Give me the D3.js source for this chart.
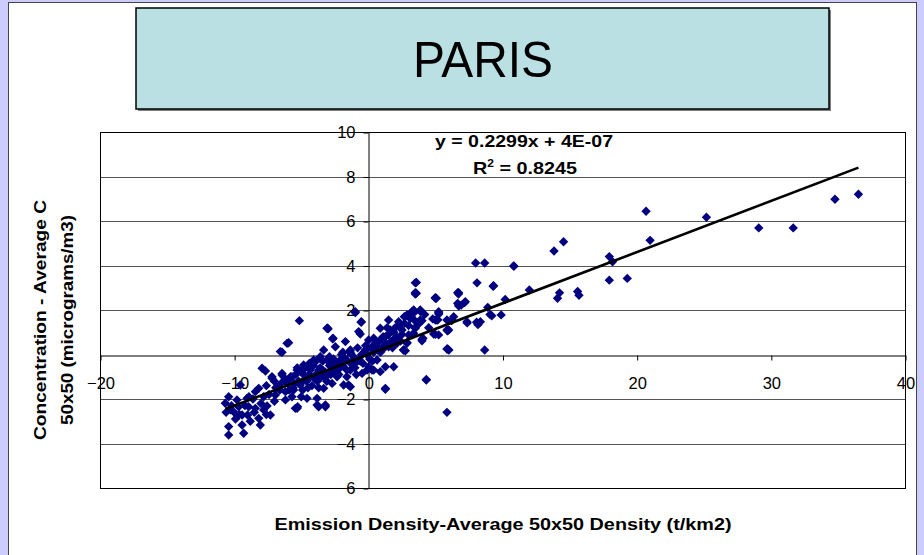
<!DOCTYPE html>
<html>
<head>
<meta charset="utf-8">
<script src="https://cdn.jsdelivr.net/npm/d3@7"></script>
<style>
  html, body { margin: 0; padding: 0; background: #ccccff; }
  svg { display: block; }
  text { font-family: "Liberation Sans", Arial, sans-serif; }
</style>
</head>
<body>
<svg id="chart" width="924" height="555"></svg>
<script>
// ---------- DATA ----------
const chartTitle = "PARIS";
const xAxisTitle = "Emission Density-Average 50x50 Density (t/km2)";
const yAxisTitleLines = ["Concentration - Average C", "50x50 (micrograms/m3)"];
const xTicks = [-20, -10, 0, 10, 20, 30, 40];
const yTicks = [-6, -4, -2, 0, 2, 4, 6, 8, 10];
const trendSlope = 0.2299;
const trendIntercept = 4e-7;
const equationText = "y = 0.2299x + 4E-07";
const r2Value = "0.8245";

// emission density (x) values
const emissionDensity = [
  36.53,34.78,31.67,29.1,25.2,20.7,21.0,17.96,18.2,17.96,19.3,13.84,14.55,14.25,14.1,15.6,15.7,12.0,10.86,10.2,
  9.9,9.2,9.07,8.9,9.3,8.1,8.0,8.67,8.67,6.0,8.17,8.07,7.37,6.72,7.16,6.74,6.2,5.9,5.0,3.5,
  3.5,5.25,5.18,3.87,3.33,2.88,4.0,3.5,4.87,4.0,2.88,2.76,
  -6.06,-6.43,-7.92,-7.67,-6.43,-7.18,-8.17,-9.54,-5.94,-6.8,-5.69,-6.18,-6.93,-10.41,-10.66,-9.79,-10.28,-9.66,
  -8.92,-8.42,-7.8,-7.55,-9.41,-9.0,-8.17,-8.05,-9.41,-10.41,-10.41,-9.29,-6.18,-5.44,-8.42,-9.04,-7.3,
  -5.14,-6.56,-5.27,-3.82,-3.2,-3.08,-2.63,-0.97,-0.52,-0.72,-1.34,1.27,0.27,0.89,4.32,5.86,5.86,3.58,3.5,4.99,
  6.73,7.23,6.73,5.24,5.86,5.99,7.35,4.07,3.38,2.63,3.25,3.87,2.68,
  -0.97,-0.54,-0.6,-3.0,-2.66,-1.71,0.02,-2.46,-3.33,-1.34,-0.22,0.4,-4.08,-4.82,-5.31,-5.69,-2.83,-2.09,-0.84,0.02,
  -0.47,-1.34,-1.47,-2.33,-3.33,-3.33,-4.32,-4.57,-3.82,-3.2,-5.31,-3.7,-5.57,-5.07,-1.84,-2.58,-3.7,-4.32,-4.82,-3.08,-3.58,
  3.58,5.07,6.66,6.66,3.38,3.92,2.88,5.24,1.51,2.26,3.13,3.87,4.99,6.24,5.86,0.89,1.64,2.51,3.5,0.4,
  1.27,2.01,4.0,5.24,0.65,1.51,2.63,5.91,0.65,1.27,1.89,0.4,4.32,1.27,2.88,3.25,2.14,
  -3.03,-5.94,9.34,10.83,8.35,6.36,6.93,5.12,4.99,3.0,3.4,-7.18,-6.43,
  -6.0,-5.8,-5.6,-5.4,-5.2,-5.0,-4.9,-4.7,-4.6,-4.4,-4.2,-4.1,-3.9,-3.8,-3.6,-3.5,-3.4,-3.2,-3.1,-2.9,
  -2.8,-2.6,-2.5,-2.3,-2.2,-2.0,-1.9,-1.7,-1.6,-1.4,-1.3,-1.1,-1.0,-0.8,-0.7,-0.5,-0.4,-0.2,-0.1,0.1,
  0.2,0.4,0.5,0.7,0.8,1.0,1.1,1.3,1.5,1.7,1.9,2.1,2.3,2.5,2.7,3.0,3.2,3.5,3.8,4.2,4.5,4.8,
  -7.0,-6.6,-7.4,-6.2,-5.9,-7.8,-8.6,-9.2,-10.0,-9.9,-8.5,-7.0,
  -5.5,-5.3,-5.0,-4.8,-4.5,-4.4,-4.0,-3.9,-3.7,-3.4,-3.0,-2.9,-2.7,-2.4,-2.1,-1.9,-1.6,-1.2,-0.9,-0.6,
  -0.3,-0.1,0.3,0.6,0.9,1.2,1.4,1.8,2.0,2.4,-6.5,-6.9,-7.6,-8.0,-8.9,-9.6,-10.2,-10.6,-8.8,-7.6
];
// concentration (y) values
const concentration = [
  7.20,6.98,5.69,5.69,6.17,6.44,5.13,4.40,4.17,3.34,3.42,4.65,5.07,2.77,2.53,2.83,2.66,2.90,3.97,2.47,
  1.78,1.74,1.8,2.12,3.07,3.22,4.11,4.11,0.2,0.2,1.34,1.45,1.42,2.72,2.33,2.18,1.52,1.07,2.53,3.22,
  2.72,1.82,1.56,1.94,1.9,1.74,1.52,1.22,0.92,0.62,0.54,0.17,
  0.50,0.10,-0.62,-0.74,-0.85,-1.07,-1.52,-1.37,-1.15,-1.45,-1.9,-2.04,-1.82,-1.9,-2.19,-2.04,-2.49,-2.35,
  -2.35,-2.42,-2.49,-2.31,-2.72,-2.72,-2.87,-3.17,-3.17,-3.24,-3.62,-3.54,-1.67,-2.42,-1.67,-1.97,-2.72,
  1.52,0.13,-2.35,-2.27,-2.27,1.18,0.73,1.92,1.47,1.03,-1.45,-1.52,-0.7,-0.77,-1.15,-2.6,0.25,3.24,2.78,2.55,
  2.78,2.37,2.22,1.92,1.55,1.1,1.47,0.73,0.95,0.2,1.92,2.0,1.7,
  1.88,1.45,0.92,1.15,0.7,0.58,0.65,0.35,0.2,0.2,0.2,0.35,-0.25,-0.47,-0.7,-1.0,-0.4,-0.25,-0.32,-0.55,
  -0.85,-0.7,-1.37,-1.0,-1.52,-1.0,-1.0,-1.97,-1.97,-2.35,-2.42,-2.35,-1.6,-1.37,-1.37,-0.7,-0.7,-0.7,-1.15,-0.25,-0.1,
  2.75,2.53,2.78,2.3,2.0,1.95,1.78,1.88,1.55,1.47,1.62,1.55,1.55,1.55,1.1,1.18,1.1,1.1,1.18,0.73,
  0.8,0.73,0.68,0.88,0.35,0.35,0.2,0.25,-0.25,-0.55,-0.55,-0.7,-1.12,-1.56,0.5,0.88,0.5,
  1.18,0.53,3.09,3.98,1.47,1.7,2.22,1.55,0.91,0.88,1.88,-1.0,-0.92,
  -1.3,-1.0,-1.5,-0.9,-1.2,-0.8,-1.6,-0.6,-1.2,-0.9,-1.4,-0.5,-0.9,-1.2,-0.6,-1.0,-0.3,-0.8,-1.2,-0.5,
  -0.9,-0.2,-0.6,-0.4,-0.9,0.0,-0.5,-0.2,-0.7,0.1,-0.4,-0.1,-0.6,0.3,-0.2,0.0,-0.4,0.4,0.0,-0.2,
  0.3,0.1,0.5,0.2,0.6,0.3,0.8,0.5,0.9,0.6,1.0,0.8,1.3,0.9,1.4,1.3,1.7,1.5,1.4,1.8,1.2,1.6,
  -1.2,-1.6,-1.8,-1.1,-1.6,-1.9,-2.0,-2.3,-2.6,-2.9,-2.6,-2.1,
  -1.3,-0.6,-1.9,-0.9,-1.5,-0.4,-1.1,-0.3,-1.5,-0.7,-0.9,-0.1,-1.3,-0.8,-0.6,0.1,-1.0,-0.3,-0.9,-0.3,
  0.1,-0.7,-0.3,0.4,0.1,0.3,1.2,0.3,1.2,0.6,-1.3,-1.5,-1.4,-2.2,-1.9,-2.7,-2.3,-2.6,-3.0,-2.7
];

// ---------- DRAW ----------
const svg = d3.select("#chart");
const plot = { left: 100, right: 905, top: 132, bottom: 488 };

// white panel
svg.append("rect").attr("x", 8.5).attr("y", 2.5).attr("width", 908).attr("height", 560)
  .attr("fill", "#ffffff").attr("stroke", "#444").attr("stroke-width", 1);

// title box
svg.append("rect").attr("x", 138).attr("y", 10).attr("width", 693).attr("height", 101)
  .attr("fill", "#808080");
svg.append("rect").attr("x", 136).attr("y", 8).attr("width", 693).attr("height", 101)
  .attr("fill", "#bbe0e3").attr("stroke", "#000").attr("stroke-width", 1.5);
svg.append("text").attr("x", 483).attr("y", 77).attr("text-anchor", "middle")
  .style("font-size", "50px").attr("fill", "#000")
  .attr("textLength", 140).attr("lengthAdjust", "spacingAndGlyphs")
  .text(chartTitle);

const x = d3.scaleLinear().domain([-20, 40]).range([plot.left, plot.right]);
const y = d3.scaleLinear().domain([-6, 10]).range([plot.bottom, plot.top]);

// gridlines
svg.append("g").selectAll("line").data(yTicks.filter(v => v !== 0 && v !== -6 && v !== 10)).join("line")
  .attr("x1", plot.left).attr("x2", plot.right)
  .attr("y1", d => Math.round(y(d)) + 0.5).attr("y2", d => Math.round(y(d)) + 0.5)
  .attr("stroke", "#555").attr("stroke-width", 1);

// plot border
svg.append("rect").attr("x", plot.left + 0.5).attr("y", plot.top + 0.5)
  .attr("width", plot.right - plot.left).attr("height", plot.bottom - plot.top)
  .attr("fill", "none").attr("stroke", "#000").attr("stroke-width", 1);

// axes
const x0 = Math.round(x(0)) + 0.5, y0 = Math.round(y(0)) + 0.5;
const xAxis = d3.axisBottom(x).tickValues(xTicks).tickSize(5).tickSizeOuter(0).tickPadding(17)
  .tickFormat(d3.format("d"));
const gx = svg.append("g").attr("transform", `translate(0.5,${y0})`).call(xAxis);
const yAxis = d3.axisLeft(y).tickValues(yTicks).tickSize(5).tickSizeOuter(0).tickPadding(8)
  .tickFormat(d3.format("d"));
const gy = svg.append("g").attr("transform", `translate(${x0},0.5)`).call(yAxis);
[gx, gy].forEach(g => {
  g.attr("font-size", null).attr("font-family", null);
  g.select(".domain").attr("stroke", "#000");
  g.selectAll(".tick line").attr("stroke", "#000");
  g.selectAll(".tick text").style("font-size", "16.5px").attr("fill", "#000");
});

// points
const pts = emissionDensity.map((v, i) => ({ ex: v, cy: concentration[i] }));
const diamond = d3.symbol().type(d3.symbolSquare).size(44);
svg.append("g").selectAll("path").data(pts).join("path")
  .attr("d", diamond)
  .attr("transform", d => `translate(${x(d.ex)},${y(d.cy)}) rotate(45)`)
  .attr("fill", "#000080");

// trendline
const xmin = d3.min(emissionDensity), xmax = d3.max(emissionDensity);
svg.append("line")
  .attr("x1", x(xmin)).attr("y1", y(trendSlope * xmin + trendIntercept))
  .attr("x2", x(xmax)).attr("y2", y(trendSlope * xmax + trendIntercept))
  .attr("stroke", "#000").attr("stroke-width", 2.6);

// equation
svg.append("text").attr("x", 524).attr("y", 147).attr("text-anchor", "middle")
  .style("font-size", "16.5px").attr("font-weight", "bold")
  .attr("textLength", 178).attr("lengthAdjust", "spacingAndGlyphs")
  .text(equationText);
const r2 = svg.append("text").attr("x", 473).attr("y", 174)
  .style("font-size", "16.5px").attr("font-weight", "bold")
  .attr("textLength", 104).attr("lengthAdjust", "spacingAndGlyphs");
r2.append("tspan").text("R");
r2.append("tspan").style("font-size", "10px").attr("dy", -7).text("2");
r2.append("tspan").attr("dy", 7).text(" = " + r2Value);

// axis titles
svg.append("text").attr("x", 503).attr("y", 530).attr("text-anchor", "middle")
  .style("font-size", "16px").attr("font-weight", "bold")
  .attr("textLength", 457).attr("lengthAdjust", "spacingAndGlyphs")
  .text(xAxisTitle);
svg.append("text").attr("transform", "translate(46,320) rotate(-90)").attr("text-anchor", "middle")
  .style("font-size", "16px").attr("font-weight", "bold")
  .attr("textLength", 240).attr("lengthAdjust", "spacingAndGlyphs")
  .text(yAxisTitleLines[0]);
svg.append("text").attr("transform", "translate(73,320) rotate(-90)").attr("text-anchor", "middle")
  .style("font-size", "16px").attr("font-weight", "bold")
  .attr("textLength", 210).attr("lengthAdjust", "spacingAndGlyphs")
  .text(yAxisTitleLines[1]);
</script>
</body>
</html>
